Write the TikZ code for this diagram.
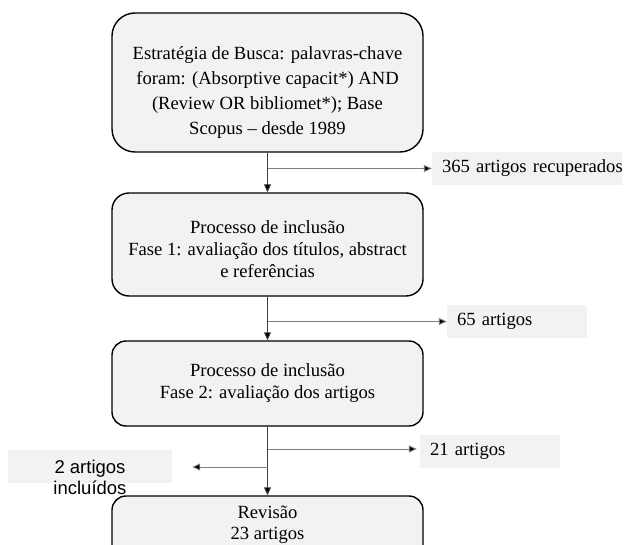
\documentclass[tikz,border=0pt]{standalone}
\usepackage{fontspec}
\setmainfont{Liberation Serif}
\newfontfamily\arialfont{Liberation Sans}
\usetikzlibrary{arrows.meta}

\definecolor{boxgray}{HTML}{F2F2F2}
\definecolor{maingray}{HTML}{404040}
\definecolor{branchgray}{HTML}{7F7F7F}

\begin{document}
\begin{tikzpicture}[x=1pt,y=-1pt,
    font=\fontsize{18.6}{22}\selectfont,
    >={Triangle[length=8pt,width=7pt]}]

      \useasboundingbox (0,0) rectangle (628,545);

      \begin{scope}[every node/.style={draw,line width=1.4pt,fill=boxgray,
          align=center,inner sep=0pt,minimum width=311pt}]
        \node[minimum height=139pt,rounded corners=23pt,
          font=\fontsize{18.6}{25}\selectfont] (1) at (267.5,82.5)
          {\rule{0pt}{33pt}Estratégia de Busca: palavras-chave\\
           foram: (Absorptive capacit*) AND\\
           (Review OR bibliomet*); Base\\
           Scopus -- desde 1989};
        \node[minimum height=103pt,rounded corners=17pt] (2) at (267.5,244.5)
          {\rule{0pt}{22pt}Processo de inclusão\\
           Fase 1: avaliação dos títulos, abstract\\
           e referências};
        \node[minimum height=85pt,rounded corners=14pt] (3) at (267.5,383.5)
          {Processo de inclusão\\Fase 2: avaliação dos artigos};
        \node[minimum height=85pt,rounded corners=14pt,
          font=\fontsize{18.6}{21}\selectfont] (4) at (267.5,538.5)
          {Revisão\\23 artigos\rule[-31pt]{0pt}{0pt}};
      \end{scope}

      \begin{scope}[every node/.style={fill=boxgray,inner xsep=10pt,
          inner ysep=0pt,minimum height=33pt,align=left}]
        \node[text width=170pt] (a) at (527,168.5) {\mbox{365 artigos recuperados}};
        \node[text width=120pt] (b) at (517,321.5) {65 artigos};
        \node[text width=120pt] (c) at (490,451.5) {21 artigos};
        \node[minimum width=164pt] (d) at (90,466.5) {};
      \end{scope}
      \node[anchor=north,inner sep=0pt,align=center,
        font=\arialfont\fontsize{18.5}{21}\selectfont] (dtext) at (90,460)
        {2 artigos\\incluídos};

      % branch points on the main line
      \coordinate (p1) at (1.south |- a.west);
      \coordinate (p2) at (2.south |- b.west);
      \coordinate (p3) at (3.south |- 0,449);
      \coordinate (p4) at (3.south |- 0,467);

      \begin{scope}[line width=0.9pt]
        \path[draw=maingray] (1) edge[->] (2);
        \path[draw=maingray] (2) edge[->] (3);
        \path[draw=maingray] (3) edge[->] (4);
        \path[draw=branchgray] (p1) edge[->] (a);
        \path[draw=branchgray] (p2) edge[->] (b);
        \path[draw=branchgray] (p3) edge[->,shorten >=3pt] (c.west |- p3);
        \path[draw=branchgray] (p4) edge[->,shorten >=20pt] (d.east |- p4);
      \end{scope}

    \end{tikzpicture}
\end{document}
